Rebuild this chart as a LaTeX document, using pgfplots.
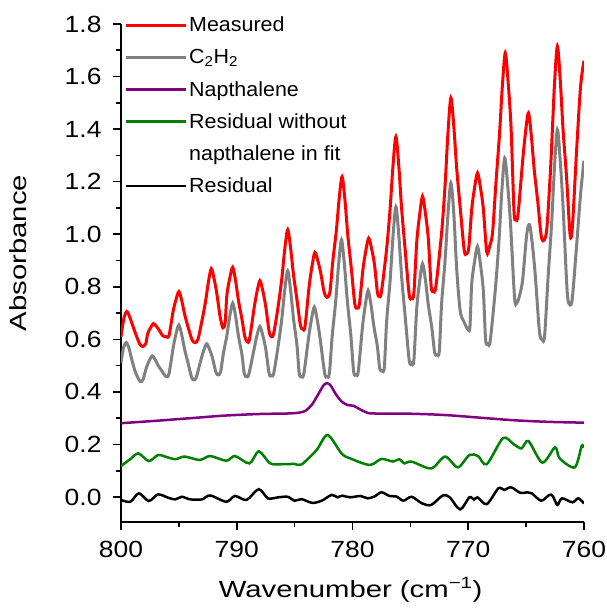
\documentclass[border=0pt]{standalone}
\usepackage{fontspec}
\setmainfont{Liberation Sans}
\newfontfamily\tickfont[FakeStretch=1.13]{Liberation Sans}
\newfontfamily\labfont[FakeStretch=1.25]{Liberation Sans}
\newfontfamily\legfont[FakeStretch=1.05]{Liberation Sans}
\usepackage{pgfplots}
\pgfplotsset{compat=1.18}
\definecolor{cred}{RGB}{255,0,0}
\definecolor{cgray}{RGB}{128,128,128}
\definecolor{cpurple}{RGB}{128,0,128}
\definecolor{cgreen}{RGB}{0,128,0}
\begin{document}
\begin{tikzpicture}
\begin{axis}[
  scale only axis, width=463bp, height=498bp,
  x dir=reverse, xmin=760, xmax=800, ymin=-0.095, ymax=1.8,
  axis x line*=bottom, axis y line*=left,
  axis line style={line width=2bp, black},
  xtick={760,770,780,790,800}, minor xtick={765,775,785,795},
  ytick={0,0.2,0.4,0.6,0.8,1.0,1.2,1.4,1.6,1.8},
  minor ytick={0.1,0.3,0.5,0.7,0.9,1.1,1.3,1.5,1.7},
  tick align=outside, major tick length=8bp, minor tick length=5bp,
  every tick/.style={line width=1.6bp, black},
  tick label style={font=\tickfont\fontsize{23.5}{28}\selectfont},
  /pgf/number format/assume math mode=true,
  yticklabel style={xshift=-8bp, /pgf/number format/.cd, fixed, fixed zerofill, precision=1},
  xticklabel style={yshift=-8bp, /pgf/number format/.cd, fixed, precision=0},
  scaled ticks=false,
  xlabel={Wavenumber (cm\textsuperscript{\char"2212 1})},
  ylabel={Absorbance},
  label style={font=\labfont\fontsize{23.5}{28}\selectfont},
  xlabel style={at={(axis description cs:0.496,-0.1506)}, anchor=base},
  ylabel style={at={(axis description cs:-0.222,0.54)}, anchor=center},
  legend style={draw=none, fill=none, at={(axis description cs:0,1)}, anchor=north west,
    xshift=3bp, yshift=9bp, inner sep=0pt, row sep=12bp,
    font=\legfont\fontsize{20.5}{24}\selectfont},
  legend cell align=left,
  legend image code/.code={\draw[#1] (0bp,0bp) -- (60bp,0bp);},
  every axis plot/.append style={smooth, tension=0.5},
]
\coordinate (sw) at (rel axis cs:0,0);
\addplot[cred, line width=3bp] coordinates {
(800.0,0.61) (799.75,0.68) (799.5,0.706) (799.25,0.685) (798.96,0.649) (798.65,0.611) (798.35,0.58) (798.1,0.573) (797.85,0.585)
(797.7,0.621) (797.45,0.644) (797.2,0.66) (796.95,0.65) (796.7,0.635) (796.4,0.614) (796.1,0.61) (795.85,0.615)
(795.5,0.706) (795.25,0.751) (795.0,0.782) (794.75,0.747) (794.5,0.695) (794.2,0.646) (793.85,0.597) (793.6,0.588) (793.35,0.60)
(793.0,0.672) (792.7,0.743) (792.45,0.818) (792.2,0.869) (791.95,0.829) (791.7,0.768) (791.45,0.69) (791.2,0.644) (791.0,0.665)
(790.85,0.77) (790.6,0.833) (790.35,0.874) (790.1,0.823) (789.85,0.747) (789.55,0.677) (789.3,0.61) (789.1,0.592) (788.9,0.60)
(788.5,0.719) (788.25,0.781) (788.0,0.823) (787.75,0.785) (787.5,0.727) (787.2,0.63) (787.0,0.61) (786.8,0.625)
(786.4,0.732) (786.1,0.834) (785.85,0.944) (785.6,1.017) (785.35,0.949) (785.1,0.847) (784.8,0.752) (784.5,0.655) (784.3,0.639) (784.1,0.65)
(783.75,0.80) (783.5,0.878) (783.25,0.931) (783.0,0.90) (782.75,0.854) (782.45,0.78) (782.2,0.76) (781.95,0.78)
(781.7,0.898) (781.4,1.012) (781.15,1.136) (780.9,1.219) (780.65,1.129) (780.4,0.994) (780.1,0.869) (779.8,0.735) (779.6,0.719) (779.4,0.735)
(779.1,0.865) (778.85,0.937) (778.6,0.985) (778.35,0.945) (778.1,0.885) (777.85,0.78) (777.7,0.763) (777.5,0.78)
(777.05,0.945) (776.75,1.097) (776.5,1.262) (776.25,1.371) (776.0,1.26) (775.75,1.095) (775.45,0.941) (775.1,0.77) (774.9,0.757) (774.7,0.775)
(774.45,0.97) (774.2,1.074) (773.95,1.144) (773.7,1.08) (773.45,0.983) (773.2,0.80) (773.0,0.786) (772.8,0.80)
(772.3,1.006) (772.0,1.189) (771.75,1.387) (771.5,1.519) (771.25,1.412) (771.0,1.252) (770.7,1.104) (770.35,0.94) (770.15,0.926) (769.95,0.95)
(769.7,1.095) (769.45,1.178) (769.2,1.233) (768.95,1.179) (768.7,1.098) (768.4,0.932) (768.15,0.955) (767.9,1.006)
(767.6,1.20) (767.3,1.38) (767.05,1.566) (766.8,1.690) (766.55,1.576) (766.3,1.404) (766.05,1.09) (765.9,1.055) (765.7,1.075)
(765.3,1.279) (765.05,1.389) (764.8,1.462) (764.55,1.375) (764.3,1.246) (764.0,1.127) (763.65,0.983) (763.25,1.006)
(762.95,1.2) (762.8,1.33) (762.55,1.57) (762.3,1.715) (762.05,1.586) (761.8,1.392) (761.5,1.213) (761.2,0.998) (761.0,1.03)
(760.65,1.31) (760.3,1.56) (760.0,1.66)
};
\addlegendentry{Measured}
\addplot[cgray, line width=3bp] coordinates {
(800.0,0.509) (799.8,0.565) (799.55,0.588) (799.3,0.565) (799.05,0.52) (798.75,0.475) (798.35,0.44) (798.1,0.447)
(797.8,0.493) (797.55,0.52) (797.3,0.537) (797.05,0.523) (796.8,0.501) (796.5,0.482) (796.1,0.458) (795.85,0.47)
(795.5,0.566) (795.25,0.62) (795.0,0.655) (794.75,0.617) (794.5,0.561) (794.2,0.509) (793.9,0.455) (793.7,0.446) (793.5,0.455)
(793.1,0.521) (792.85,0.558) (792.6,0.583) (792.35,0.562) (792.1,0.53) (791.8,0.475) (791.6,0.465) (791.4,0.475)
(791.15,0.547) (790.85,0.615) (790.6,0.689) (790.35,0.738) (790.1,0.688) (789.85,0.612) (789.55,0.542) (789.35,0.47) (789.15,0.458) (788.95,0.468)
(788.5,0.563) (788.25,0.615) (788.0,0.649) (787.75,0.615) (787.5,0.565) (787.2,0.47) (787.0,0.462) (786.8,0.472)
(786.4,0.582) (786.1,0.681) (785.85,0.789) (785.6,0.861) (785.35,0.788) (785.1,0.68) (784.8,0.579) (784.6,0.47) (784.4,0.458) (784.2,0.47)
(783.8,0.604) (783.55,0.675) (783.3,0.723) (783.05,0.675) (782.8,0.604) (782.4,0.47) (782.2,0.458) (782.0,0.47)
(781.75,0.614) (781.45,0.745) (781.2,0.885) (780.95,0.979) (780.7,0.886) (780.45,0.748) (780.15,0.619) (779.9,0.478) (779.7,0.465) (779.5,0.478)
(779.15,0.642) (778.9,0.728) (778.65,0.786) (778.4,0.731) (778.15,0.649) (777.85,0.573) (777.65,0.49) (777.45,0.481) (777.25,0.493)
(777.05,0.668) (776.75,0.824) (776.5,0.992) (776.25,1.104) (776.0,0.997) (775.75,0.836) (775.45,0.688) (775.1,0.52) (774.9,0.509) (774.7,0.52)
(774.45,0.717) (774.2,0.82) (773.95,0.888) (773.7,0.826) (773.45,0.732) (773.15,0.645) (772.9,0.55) (772.7,0.541) (772.5,0.555)
(772.3,0.737) (772.0,0.901) (771.75,1.077) (771.5,1.195) (771.25,1.08) (771.0,0.87) (770.7,0.71) (770.35,0.665) (770.0,0.636) (769.85,0.65)
(769.7,0.811) (769.45,0.897) (769.2,0.954) (768.95,0.887) (768.7,0.787) (768.5,0.60) (768.3,0.583) (768.1,0.595)
(767.65,0.795) (767.35,0.972) (767.1,1.163) (766.85,1.29) (766.6,1.19) (766.35,1.042) (766.0,0.76) (765.8,0.738) (765.55,0.77) (765.3,0.827)
(764.95,0.998) (764.7,1.036) (764.45,0.957) (764.2,0.839) (763.85,0.63) (763.6,0.598) (763.4,0.615)
(763.1,0.838) (762.8,1.038) (762.55,1.254) (762.3,1.398) (762.05,1.278) (761.8,1.098) (761.45,0.78) (761.2,0.731) (761.0,0.76)
(760.65,0.95) (760.3,1.15) (760.0,1.28)
};
\addlegendentry{C\textsubscript{2}H\textsubscript{2}}
\addplot[cpurple, line width=2.5bp] coordinates {
(800,0.281) (797,0.290) (794,0.300) (791,0.310) (788,0.316) (785.5,0.318) (784.5,0.322)
(784.0,0.330) (783.5,0.352) (783.0,0.388) (782.5,0.425) (782.2,0.433) (781.9,0.425) (781.4,0.389)
(780.9,0.362) (780.4,0.350) (779.9,0.347) (779.4,0.335) (778.8,0.322) (778.2,0.318) (775,0.317)
(772,0.312) (769,0.302) (766,0.292) (763,0.286) (760,0.283)
};
\addlegendentry{Napthalene}
\addplot[cgreen, line width=2.5bp] coordinates {
(800.0,0.118) (799.2,0.144) (798.5,0.166) (797.6,0.137) (796.8,0.160) (796.2,0.154) (795.3,0.144)
(794.5,0.154) (793.2,0.141) (792.3,0.156) (790.9,0.138) (790.15,0.156) (788.9,0.128) (788.1,0.174)
(787.1,0.128) (786.0,0.125) (785.0,0.126) (784.4,0.124) (783.1,0.179) (782.15,0.236) (780.95,0.166)
(780.2,0.147) (778.5,0.122) (777.5,0.145) (776.5,0.135) (775.97,0.144) (775.5,0.128) (774.9,0.135)
(773.2,0.109) (772.0,0.154) (770.9,0.113) (769.9,0.160) (769.15,0.156) (768.4,0.125) (767.0,0.224)
(766.1,0.202) (765.4,0.185) (764.8,0.213) (763.6,0.131) (762.5,0.189) (762.1,0.147) (760.8,0.113)
(760.2,0.194) (760.0,0.188)
};
\addlegendentry{Residual without}
\addlegendimage{empty legend}
\addlegendentry{napthalene in fit}
\addplot[black, line width=2.5bp] coordinates {
(800.0,-0.011) (799.2,-0.018) (798.45,0.014) (797.6,-0.015) (796.8,0.010) (795.9,-0.003) (795.3,-0.009)
(794.75,0.001) (794.0,-0.009) (793.0,-0.009) (792.3,0.006) (790.9,-0.018) (790.15,0.004) (789.15,-0.011)
(788.1,0.030) (787.3,-0.005) (786.4,-0.001) (785.6,0.001) (785.0,-0.014) (784.4,-0.008) (783.5,-0.022)
(782.7,-0.015) (781.8,0.008) (781.3,-0.001) (780.9,0.005) (780.2,-0.001) (779.3,0.004) (778.7,-0.005)
(778.1,0.002) (777.5,0.018) (776.8,0.004) (776.2,0.002) (775.6,-0.014) (774.9,0.001) (774.0,-0.024)
(773.2,-0.030) (772.2,0.006) (771.6,-0.001) (770.7,-0.047) (769.9,-0.001) (769.5,-0.010) (769.2,-0.001)
(768.4,-0.027) (767.4,0.033) (766.9,0.027) (766.3,0.037) (765.5,0.016) (764.9,0.018) (764.5,0.014)
(763.7,-0.014) (763.0,0.008) (762.7,0.004) (762.3,-0.030) (761.9,-0.005) (761.0,-0.020) (760.5,-0.005)
(760.0,-0.024)
};
\addlegendentry{Residual}
\end{axis}
\pgfresetboundingbox
\path (sw) ++(-121bp,-89bp) rectangle ++(607bp,611bp);
\end{tikzpicture}
\end{document}
